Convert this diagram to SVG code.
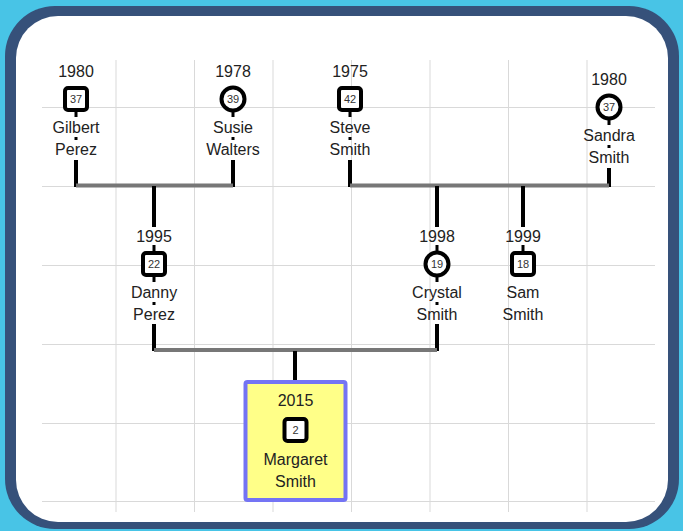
<svg xmlns="http://www.w3.org/2000/svg" width="683" height="531" viewBox="0 0 683 531">
<style>
.grid{stroke:#d9d9d9;stroke-width:1;fill:none}
.t{font-family:"Liberation Sans",Arial,sans-serif;font-size:16px;fill:#222;text-anchor:middle}
.n{font-family:"Liberation Sans",Arial,sans-serif;font-size:11px;fill:#333;text-anchor:middle}
.sq{fill:#fff;stroke:#000;stroke-width:4}
.ci{fill:#fff;stroke:#000;stroke-width:4}
.blk{stroke:#000;stroke-width:4;fill:none}
.stub{stroke:#000;stroke-width:3;fill:none}
.gry{stroke:#777;stroke-width:4;fill:none}
</style>
<rect x="0" y="0" width="683" height="531" fill="#48c4e6"/>
<rect x="5" y="6" width="674" height="523" rx="50" fill="#36517a"/>
<rect x="16" y="16" width="652" height="506" rx="42" fill="#fff"/>
<g id="grid" class="grid">
<path d="M116 60V512M194.5 60V512M273 60V512M351.5 60V512M430 60V512M508.5 60V512M587 60V512"/>
<path d="M42 107.5H655M42 186.5H655M42 265.5H655M42 344.5H655M42 423.5H655M42 501.5H655"/>
</g>
<g id="connectors">
<path class="blk" d="M76 160V187M233 160V187M350 160V187M609 168V187"/>
<path class="gry" d="M76 185.5H233M350 185.5H609"/>
<path class="blk" d="M154 186V227M437 186V227M523 186V227"/>
<path class="blk" d="M154 324V351M437 324V351"/>
<path class="gry" d="M154 350H437"/>
<path class="blk" d="M295 351V381"/>
</g>
<g id="gilbert">
<text class="t" x="76" y="77">1980</text>
<path class="stub" d="M76 111V117M76 137V140"/>
<rect class="sq" x="65" y="88" width="22" height="22" rx="3"/>
<text class="n" x="76" y="103">37</text>
<text class="t" x="76" y="133">Gilbert</text>
<text class="t" x="76" y="155">Perez</text>
</g>
<g id="susie">
<text class="t" x="233" y="77">1978</text>
<path class="stub" d="M233 111V117M233 137V140"/>
<circle class="ci" cx="233" cy="99" r="11.5"/>
<text class="n" x="233" y="103">39</text>
<text class="t" x="233" y="133">Susie</text>
<text class="t" x="233" y="155">Walters</text>
</g>
<g id="steve">
<text class="t" x="350" y="77">1975</text>
<path class="stub" d="M350 111V117M350 137V140"/>
<rect class="sq" x="339" y="88" width="22" height="22" rx="3"/>
<text class="n" x="350" y="103">42</text>
<text class="t" x="350" y="133">Steve</text>
<text class="t" x="350" y="155">Smith</text>
</g>
<g id="sandra">
<text class="t" x="609" y="85">1980</text>
<path class="stub" d="M609 119V125M609 145V148"/>
<circle class="ci" cx="609" cy="107" r="11.5"/>
<text class="n" x="609" y="111">37</text>
<text class="t" x="609" y="141">Sandra</text>
<text class="t" x="609" y="163">Smith</text>
</g>
<g id="danny">
<text class="t" x="154" y="242">1995</text>
<path class="stub" d="M154 245V252M154 276V282M154 302V305"/>
<rect class="sq" x="143" y="253" width="22" height="22" rx="3"/>
<text class="n" x="154" y="268">22</text>
<text class="t" x="154" y="298">Danny</text>
<text class="t" x="154" y="320">Perez</text>
</g>
<g id="crystal">
<text class="t" x="437" y="242">1998</text>
<path class="stub" d="M437 245V252M437 276V282M437 302V305"/>
<circle class="ci" cx="437" cy="264" r="11.5"/>
<text class="n" x="437" y="268">19</text>
<text class="t" x="437" y="298">Crystal</text>
<text class="t" x="437" y="320">Smith</text>
</g>
<g id="sam">
<text class="t" x="523" y="242">1999</text>
<path class="stub" d="M523 245V252"/>
<rect class="sq" x="512" y="253" width="22" height="22" rx="3"/>
<text class="n" x="523" y="268">18</text>
<text class="t" x="523" y="298">Sam</text>
<text class="t" x="523" y="320">Smith</text>
</g>
<g id="margaret">
<rect x="245.5" y="382" width="100" height="118" rx="2" fill="#ffff88" stroke="#7474f4" stroke-width="4"/>
<text class="t" x="295.5" y="406">2015</text>
<rect class="sq" x="284.5" y="419" width="22" height="22" rx="3"/>
<text class="n" x="295.5" y="434">2</text>
<text class="t" x="295.5" y="465">Margaret</text>
<text class="t" x="295.5" y="487">Smith</text>
</g>
</svg>
